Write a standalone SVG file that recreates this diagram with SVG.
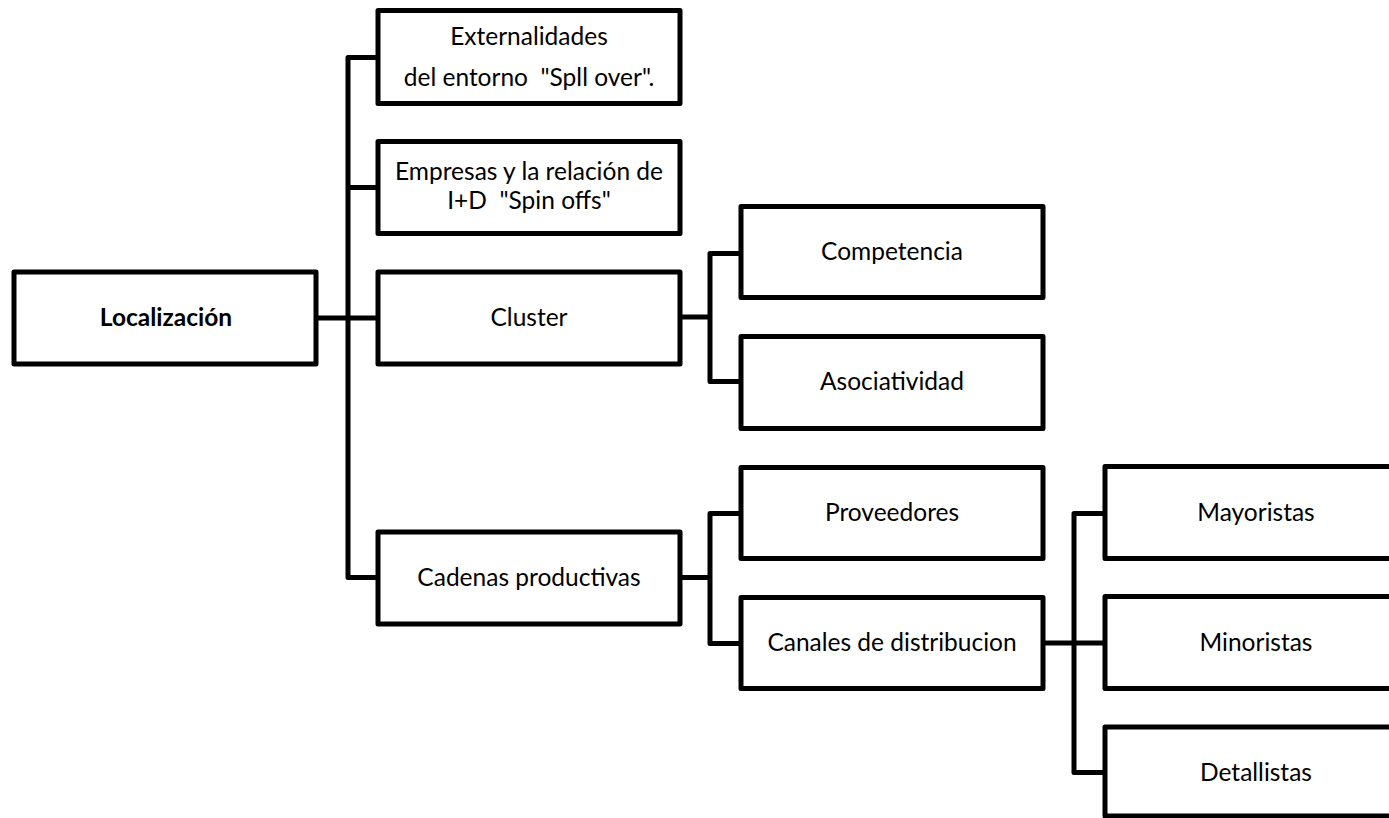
<svg xmlns="http://www.w3.org/2000/svg" width="1389" height="818" viewBox="0 0 1389 818">
<style>
.box{fill:#fff;stroke:#000;stroke-width:5;stroke-linejoin:round}
.ln{fill:none;stroke:#000;stroke-width:5;stroke-linejoin:round;stroke-linecap:butt}
text{font-family:Lato,"Liberation Sans",sans-serif;font-size:24.5px;fill:#000;text-anchor:middle}
.b{font-weight:bold}
</style>
<rect width="1389" height="818" fill="#fff"/>
<g id="connectors">
<path class="ln" d="M316 318 H378"/>
<path class="ln" d="M378 57.5 H348 V577.5 H378"/>
<path class="ln" d="M348 187.5 H378"/>
<path class="ln" d="M680 317 H710"/>
<path class="ln" d="M741 253.5 H710 V381.5 H741"/>
<path class="ln" d="M680 577.5 H710"/>
<path class="ln" d="M741 513.5 H710 V643.5 H741"/>
<path class="ln" d="M1043 643 H1105"/>
<path class="ln" d="M1105 513.5 H1074 V772.5 H1105"/>
</g>
<g id="n-localizacion"><rect class="box" x="14" y="272" width="302" height="92"/><text class="b" x="166" y="326">Localización</text></g>
<g id="n-externalidades"><rect class="box" x="378" y="10.5" width="302" height="93"/><text x="529" y="45">Externalidades</text><text x="529" y="86" xml:space="preserve">del entorno  "Spll over".</text></g>
<g id="n-empresas"><rect class="box" x="378" y="141.5" width="302" height="92"/><text x="529" y="180">Empresas y la relación de</text><text x="529" y="209" xml:space="preserve">I+D  "Spin offs"</text></g>
<g id="n-cluster"><rect class="box" x="378" y="272" width="302" height="92"/><text x="529" y="326">Cluster</text></g>
<g id="n-cadenas"><rect class="box" x="378" y="532" width="302" height="92"/><text x="529" y="586">Cadenas productivas</text></g>
<g id="n-competencia"><rect class="box" x="741" y="206.5" width="302" height="91"/><text x="892" y="260">Competencia</text></g>
<g id="n-asociatividad"><rect class="box" x="741" y="336.5" width="302" height="92"/><text x="892" y="390">Asociatividad</text></g>
<g id="n-proveedores"><rect class="box" x="741" y="467.5" width="302" height="91"/><text x="892" y="521">Proveedores</text></g>
<g id="n-canales"><rect class="box" x="741" y="597.5" width="302" height="91"/><text x="892" y="651">Canales de distribucion</text></g>
<g id="n-mayoristas"><rect class="box" x="1105" y="466.5" width="310" height="92"/><text x="1256" y="521">Mayoristas</text></g>
<g id="n-minoristas"><rect class="box" x="1105" y="596.5" width="310" height="92"/><text x="1256" y="651">Minoristas</text></g>
<g id="n-detallistas"><rect class="box" x="1105" y="727" width="310" height="89"/><text x="1256" y="781">Detallistas</text></g>
</svg>
